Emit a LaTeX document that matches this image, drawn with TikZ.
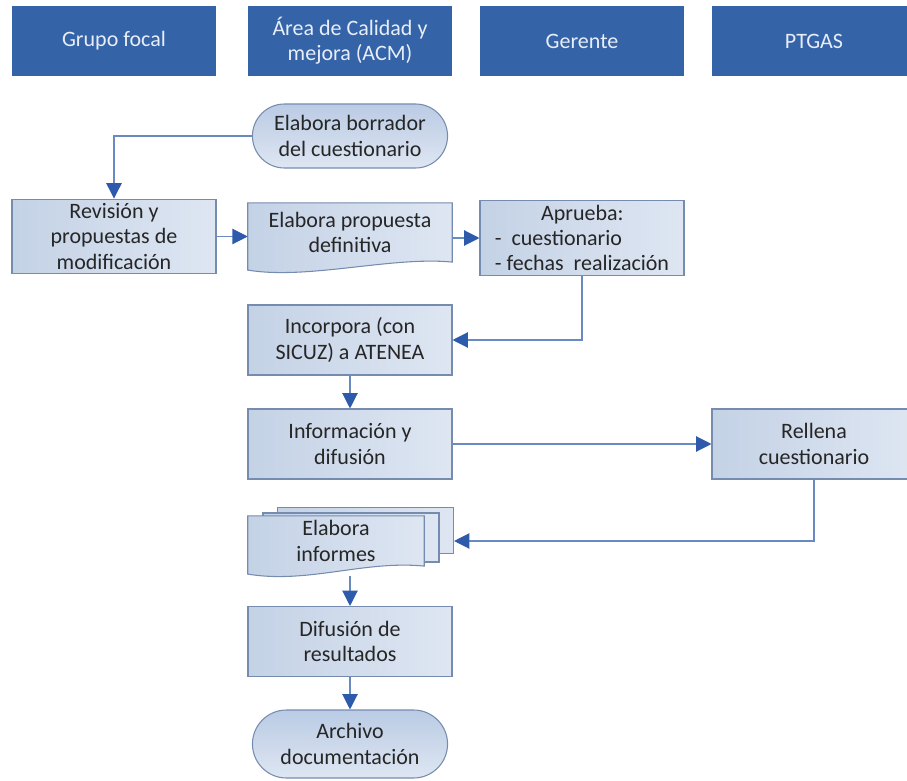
\documentclass[tikz,border=0pt]{standalone}
\usepackage{fontspec}
\setmainfont{Carlito}
\usepackage{tikz}
\usetikzlibrary{
	shapes.misc,
	arrows.meta,
	positioning,
	backgrounds,
	calc
}
\definecolor{hdrblue}{RGB}{52,99,168}
\definecolor{hdrtext}{RGB}{232,238,248}
\definecolor{boxL}{RGB}{196,210,230}
\definecolor{boxR}{RGB}{222,230,242}
\definecolor{termT}{RGB}{186,203,228}
\definecolor{boxline}{RGB}{118,140,175}
\definecolor{linec}{RGB}{104,138,192}
\definecolor{tipc}{RGB}{45,90,170}
\definecolor{textc}{RGB}{38,38,38}

% document outline with a wavy bottom, drawn behind a node
\newcommand{\docshape}[1]{%
	\begin{pgfonlayer}{background}
		\draw[boxline, line width=0.8pt, left color=boxL, right color=boxR]
		(#1.north west) -- (#1.north east) -- (#1.south east)
		.. controls ($(#1.south east)+(-60,-6)$) and ($(#1.south west)+(60,18)$) .. ($(#1.south west)+(0,8)$)
		-- cycle;
	\end{pgfonlayer}}

\begin{document}
\begin{tikzpicture}[x=0.75pt, y=-0.75pt,
					header/.style={
					rectangle, fill=hdrblue, text=hdrtext,
					minimum width=153pt, minimum height=53pt,
					align=center, font=\fontsize{16.5}{19}\selectfont
				},
				box/.style={
					rectangle, draw=boxline, line width=0.8pt,
					left color=boxL, right color=boxR, text=textc,
					minimum width=153pt, minimum height=52.5pt,
					align=center, font=\fontsize{16.5}{19}\selectfont
				},
				terminal/.style={
					box, rounded rectangle, rounded rectangle arc length=180,
					top color=termT, bottom color=boxR,
					minimum height=48pt
				},
				docbox/.style={
					rectangle, text=textc,
					minimum width=153pt, minimum height=52.5pt,
					align=center, font=\fontsize{16.5}{19}\selectfont
				},
				sheet/.style={
					rectangle, draw=boxline, line width=0.8pt,
					left color=boxL, right color=boxR,
					minimum width=132pt, minimum height=35pt
				},
				arrow/.style={-{Triangle[length=11.5pt, width=11.5pt, color=tipc]}, draw=linec, line width=0.9pt}
				]
				\useasboundingbox (0,0) rectangle (907,781);
				
				%headers
				\node[header] (grupo) at (114,41) {Grupo focal};
				\node[header] (acm) at (350,41) {Área de Calidad y\\mejora (ACM)};
				\node[header] (gerente) at (582,41) {Gerente};
				\node[header] (ptgas) at (814,41) {PTGAS};
				
				%first set
				\node[terminal] (borrador) at (350,136) {Elabora borrador\\del cuestionario};
				\node[box, minimum height=50pt] (revision) at (114,236.5) {Revisión y\\propuestas de\\modificación};
				\draw[arrow] (borrador.west) -| (revision.north);
				
				\node[docbox, minimum height=44pt] (propuesta) at (350,232.5) {Elabora propuesta\\definitiva};
				\docshape{propuesta}
				\draw[arrow] (revision.east) -- (revision.east -| propuesta.west);
				
				\node[box] (aprueba) at (582,238) [align=left] {\hspace*{2.1em}Aprueba:\\-\ \ cuestionario\\- fechas\ \ realización};
				\draw[arrow] (propuesta.east |- aprueba.west) -- (aprueba.west);
				
				%second set
				\node[box] (incorpora) at (350,340) {Incorpora (con\\SICUZ) a ATENEA};
				\draw[arrow] (aprueba.south) |- (incorpora.east);
				
				\node[box] (informacion) at (350,444) {Información y\\difusión};
				\draw[arrow] (incorpora.south) -- (informacion.north);
				
				\node[box] (rellena) at (814,444) {Rellena\\cuestionario};
				\draw[arrow] (informacion.east) -- (rellena.west);
				
				%third set
				\begin{pgfonlayer}{background}
					\node[sheet] (informes-b) at (365.5,530.5) {};
					\node[sheet, minimum height=36.75pt] (informes-m) at (351,537.5) {};
				\end{pgfonlayer}
				\node[docbox, minimum width=132pt, minimum height=33pt] (informes) at (336,541) {Elabora\\informes};
				\docshape{informes}
				\draw[arrow] (rellena.south) |- (informes.east -| informes-b.east);
				
				\node[box] (difusion) at (350,641.5) {Difusión de\\resultados};
				\draw[arrow] (informes.south -| difusion.north) ++(0,10) -- (difusion.north);
				
				\node[terminal, minimum height=51pt] (archivo) at (350,744) {Archivo\\documentación};
				\draw[arrow] (difusion.south) -- (archivo.north);
			\end{tikzpicture}
\end{document}
